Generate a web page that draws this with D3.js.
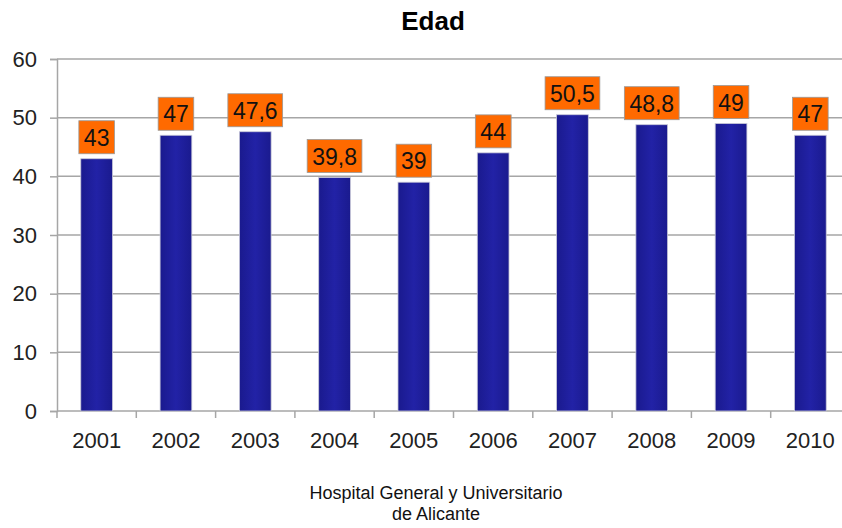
<!DOCTYPE html>
<html>
<head>
<meta charset="utf-8">
<script src="https://cdn.jsdelivr.net/npm/d3@7"></script>
<style>
  body { margin: 0; background: #fff; }
  svg { display: block; font-family: "Liberation Sans", Arial, sans-serif; }
</style>
</head>
<body>
<svg width="842" height="528"></svg>
<script>
const years = ["2001", "2002", "2003", "2004", "2005", "2006", "2007", "2008", "2009", "2010"];
const ages = [43, 47, 47.6, 39.8, 39, 44, 50.5, 48.8, 49, 47];
const yTicks = [0, 10, 20, 30, 40, 50, 60];

const svg = d3.select("svg");
const plotLeft = 57, plotRight = 850, plotTop = 59, plotBottom = 411;

const x = d3.scaleBand().domain(years).range([plotLeft, plotRight]).paddingInner(0.6).paddingOuter(0.3);
const y = d3.scaleLinear().domain([0, 60]).range([plotBottom, plotTop]);

// subtle gradient for bars
const grad = svg.append("defs").append("linearGradient").attr("id", "barGrad");
grad.append("stop").attr("offset", "0%").attr("stop-color", "#1a1a8e");
grad.append("stop").attr("offset", "50%").attr("stop-color", "#2222a6");
grad.append("stop").attr("offset", "100%").attr("stop-color", "#1a1a8e");

// title
svg.append("text")
    .attr("x", 433).attr("y", 30)
    .attr("text-anchor", "middle")
    .attr("font-size", 26).attr("font-weight", "bold")
    .text("Edad");

// gridlines
svg.append("g")
    .selectAll("line")
    .data(yTicks.filter(d => d > 0))
    .join("line")
    .attr("x1", plotLeft).attr("x2", 842)
    .attr("y1", d => y(d)).attr("y2", d => y(d))
    .attr("stroke", "#a6a6a6").attr("stroke-width", 1.5);

// y axis
const yAxis = svg.append("g")
    .attr("transform", `translate(${plotLeft},0)`)
    .call(d3.axisLeft(y).tickValues(yTicks).tickSize(7).tickPadding(13));
yAxis.selectAll("text").attr("font-size", 22).attr("fill", "#222").attr("font-family", "Liberation Sans, Arial, sans-serif");
yAxis.selectAll("line, path").attr("stroke", "#a6a6a6").attr("stroke-width", 1.5);

// x axis: ticks at band boundaries
const xAxis = svg.append("g").attr("transform", `translate(0,${plotBottom})`);
xAxis.append("line")
    .attr("x1", plotLeft).attr("x2", 842)
    .attr("stroke", "#a6a6a6").attr("stroke-width", 1.5);
const step = x.step();
xAxis.selectAll("line.tick")
    .data(d3.range(years.length + 1))
    .join("line")
    .attr("class", "tick")
    .attr("x1", i => x(years[0]) - step * 0.3 + i * step)
    .attr("x2", i => x(years[0]) - step * 0.3 + i * step)
    .attr("y1", 0).attr("y2", 7)
    .attr("stroke", "#a6a6a6").attr("stroke-width", 1.5);
xAxis.selectAll("text")
    .data(years)
    .join("text")
    .attr("x", d => x(d) + x.bandwidth() / 2)
    .attr("y", 37)
    .attr("text-anchor", "middle")
    .attr("font-size", 22).attr("fill", "#222")
    .text(d => d);

// bars
svg.append("g")
    .selectAll("rect")
    .data(years)
    .join("rect")
    .attr("x", d => x(d))
    .attr("y", (d, i) => y(ages[i]))
    .attr("width", x.bandwidth())
    .attr("height", (d, i) => y(0) - y(ages[i]))
    .attr("fill", "url(#barGrad)")
    .attr("stroke", "#c8c8d8").attr("stroke-width", 0.8);

// labels
const fmt = v => String(v).replace(".", ",");
const lab = svg.append("g")
    .selectAll("g")
    .data(years)
    .join("g")
    .attr("transform", (d, i) => `translate(${x(d) + x.bandwidth() / 2},${y(ages[i]) - 5})`);

lab.append("text")
    .attr("y", -8)
    .attr("text-anchor", "middle")
    .attr("font-size", 23).attr("fill", "#111")
    .text((d, i) => fmt(ages[i]));

lab.each(function () {
    const g = d3.select(this);
    const bb = g.select("text").node().getBBox();
    g.insert("rect", "text")
        .attr("x", bb.x - 5).attr("width", bb.width + 10)
        .attr("y", -33).attr("height", 33)
        .attr("fill", "#ff6a00")
        .attr("stroke", "#999").attr("stroke-width", 0.8);
});

// footer
svg.append("text")
    .attr("x", 436).attr("y", 499)
    .attr("text-anchor", "middle")
    .attr("font-size", 18).attr("fill", "#111")
    .text("Hospital General y Universitario");
svg.append("text")
    .attr("x", 436).attr("y", 520)
    .attr("text-anchor", "middle")
    .attr("font-size", 18).attr("fill", "#111")
    .text("de Alicante");
</script>
</body>
</html>
